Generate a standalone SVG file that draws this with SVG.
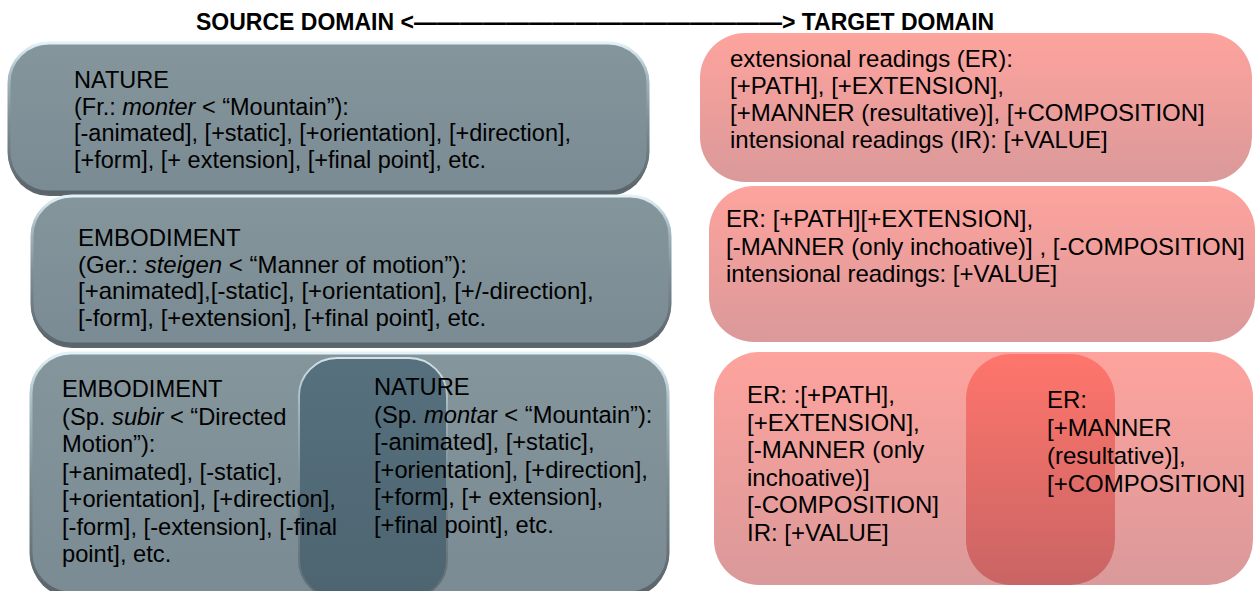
<svg xmlns="http://www.w3.org/2000/svg" width="1255" height="591" viewBox="0 0 1255 591">
<defs>
<linearGradient id="grayFill" x1="0" y1="0" x2="0" y2="1">
<stop offset="0" stop-color="#84959c"/>
<stop offset="1" stop-color="#7a8b93"/>
</linearGradient>
<linearGradient id="grayEdge" x1="0" y1="0" x2="0" y2="1">
<stop offset="0" stop-color="#e2f1f7"/>
<stop offset="0.2" stop-color="#a9bdc6"/>
<stop offset="0.5" stop-color="#7f9097"/>
<stop offset="1" stop-color="#5a656b"/>
</linearGradient>
<linearGradient id="darkFill" x1="0" y1="0" x2="0" y2="1">
<stop offset="0" stop-color="#4f6a78"/>
<stop offset="1" stop-color="#465f6c"/>
</linearGradient>
<linearGradient id="pinkFill" x1="0" y1="0" x2="0" y2="1">
<stop offset="0" stop-color="#fea39d"/>
<stop offset="1" stop-color="#da999a"/>
</linearGradient>
<linearGradient id="redFill" x1="0" y1="0" x2="0" y2="1">
<stop offset="0" stop-color="#ff6d63"/>
<stop offset="1" stop-color="#c65b5b"/>
</linearGradient>
</defs>
<style>
.t{font-family:"Liberation Sans",Arial,sans-serif;fill:#000}
.g1{font-size:23.5px}
.g2{font-size:24px}
.g3{font-size:23.7px}
.p{font-size:24px}
.h{font-family:"Liberation Sans",Arial,sans-serif;font-weight:bold;font-size:23px;fill:#000}
.sh{fill:#5c666b}
.gb{fill:url(#grayFill);stroke:url(#grayEdge);stroke-width:3}
.db{fill:url(#darkFill);stroke:url(#grayEdge);stroke-width:2;opacity:0.85}
.pb{fill:url(#pinkFill)}
.rb{fill:url(#redFill);opacity:0.85}
</style>
<rect width="1255" height="591" fill="#ffffff"/>
<g id="header">
<text class="h" x="196" y="30">SOURCE DOMAIN &lt;————————————————&gt; TARGET DOMAIN</text>
</g>
<g id="connectors"></g>
<g id="source-nature">
<rect class="sh" x="9" y="47" width="639" height="149" rx="40"/>
<rect class="gb" x="9" y="43" width="639" height="149" rx="40"/>
<text class="t g1" x="74" y="88">NATURE</text>
<text class="t g1" x="74" y="114.5">(Fr.: <tspan font-style="italic">monter</tspan> &lt; “Mountain”):</text>
<text class="t g1" x="74" y="141">[-animated], [+static], [+orientation], [+direction],</text>
<text class="t g1" x="74" y="167.5">[+form], [+ extension], [+final point], etc.</text>
</g>
<g id="source-embodiment-ger">
<rect class="sh" x="32" y="200" width="638" height="148" rx="40"/>
<rect class="gb" x="32" y="196" width="638" height="148" rx="40"/>
<text class="t g2" x="78" y="246">EMBODIMENT</text>
<text class="t g2" x="78" y="272.5">(Ger.: <tspan font-style="italic">steigen</tspan> &lt; “Manner of motion”):</text>
<text class="t g2" x="78" y="299">[+animated],[-static], [+orientation], [+/-direction],</text>
<text class="t g2" x="78" y="325.5">[-form], [+extension], [+final point], etc.</text>
</g>
<g id="source-spanish">
<rect class="sh" x="31" y="357" width="637" height="240" rx="40"/>
<rect class="gb" x="31" y="353" width="637" height="240" rx="40"/>
<rect class="db" x="299" y="358" width="148" height="240" rx="38"/>
<text class="t g3" x="62" y="397">EMBODIMENT</text>
<text class="t g3" x="62" y="424.5">(Sp. <tspan font-style="italic">subir</tspan> &lt; “Directed</text>
<text class="t g3" x="62" y="452">Motion”):</text>
<text class="t g3" x="62" y="479.5">[+animated], [-static],</text>
<text class="t g3" x="62" y="507">[+orientation], [+direction],</text>
<text class="t g3" x="62" y="534.5">[-form], [-extension], [-final</text>
<text class="t g3" x="62" y="562">point], etc.</text>
<text class="t g3" x="374" y="395">NATURE</text>
<text class="t g3" x="374" y="422.5">(Sp. <tspan font-style="italic">monta</tspan>r &lt; “Mountain”):</text>
<text class="t g3" x="374" y="450">[-animated], [+static],</text>
<text class="t g3" x="374" y="477.5">[+orientation], [+direction],</text>
<text class="t g3" x="374" y="505">[+form], [+ extension],</text>
<text class="t g3" x="374" y="532.5">[+final point], etc.</text>
</g>
<g id="target-er-ir">
<rect class="pb" x="700" y="33" width="552" height="149" rx="45"/>
<text class="t p" x="730" y="67">extensional readings (ER):</text>
<text class="t p" x="730" y="94">[+PATH], [+EXTENSION],</text>
<text class="t p" x="730" y="121">[+MANNER (resultative)], [+COMPOSITION]</text>
<text class="t p" x="730" y="148">intensional readings (IR): [+VALUE]</text>
</g>
<g id="target-er-ger">
<rect class="pb" x="709" y="186" width="546" height="156" rx="45"/>
<text class="t p" x="726" y="227">ER: [+PATH][+EXTENSION],</text>
<text class="t p" x="726" y="255">[-MANNER (only inchoative)] , [-COMPOSITION]</text>
<text class="t p" x="726" y="282">intensional readings: [+VALUE]</text>
</g>
<g id="target-spanish">
<rect class="pb" x="714" y="352" width="539" height="233" rx="45"/>
<rect class="rb" x="966" y="354" width="149" height="231" rx="45"/>
<text class="t p" x="747" y="403">ER: :[+PATH],</text>
<text class="t p" x="747" y="430.5">[+EXTENSION],</text>
<text class="t p" x="747" y="458">[-MANNER (only</text>
<text class="t p" x="747" y="485.5">inchoative)]</text>
<text class="t p" x="747" y="513">[-COMPOSITION]</text>
<text class="t p" x="747" y="540.5">IR: [+VALUE]</text>
<text class="t p" x="1047" y="408">ER:</text>
<text class="t p" x="1047" y="436">[+MANNER</text>
<text class="t p" x="1047" y="464">(resultative)],</text>
<text class="t p" x="1047" y="492">[+COMPOSITION]</text>
</g>
</svg>
